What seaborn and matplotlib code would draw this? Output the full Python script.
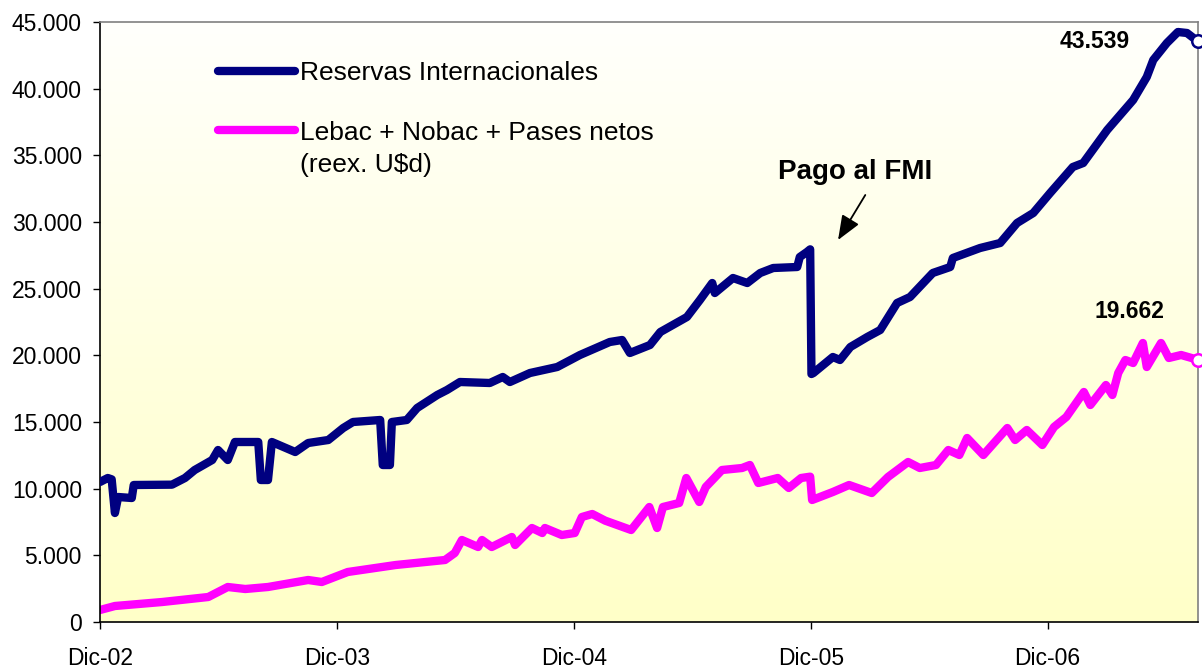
import numpy as np
import pandas as pd
import matplotlib
matplotlib.use('Agg')
from matplotlib import pyplot as plt
import matplotlib.ticker as mticker
import seaborn as sns

# Reservas Internacionales (millones U$d)
reservas_fechas = [
    '2002-12-01', '2002-12-13', '2002-12-19', '2002-12-24', '2002-12-29', '2003-01-19',
    '2003-01-22', '2003-03-22', '2003-04-11', '2003-04-26', '2003-05-23', '2003-06-01',
    '2003-06-16', '2003-06-27', '2003-08-02', '2003-08-06', '2003-08-17', '2003-08-23',
    '2003-09-28', '2003-10-18', '2003-11-18', '2003-12-11', '2003-12-26', '2004-02-06',
    '2004-02-10', '2004-02-21', '2004-02-24', '2004-03-18', '2004-04-03', '2004-05-04',
    '2004-05-19', '2004-06-08', '2004-07-24', '2004-08-13', '2004-08-24', '2004-09-24',
    '2004-11-05', '2004-12-10', '2005-01-25', '2005-02-13', '2005-02-25', '2005-03-28',
    '2005-04-13', '2005-05-24', '2005-06-13', '2005-07-02', '2005-07-06', '2005-08-03',
    '2005-08-25', '2005-09-14', '2005-10-04', '2005-11-10', '2005-11-14', '2005-11-25',
    '2005-11-30', '2005-12-02', '2005-12-05', '2006-01-04', '2006-01-15', '2006-01-31',
    '2006-02-26', '2006-03-18', '2006-04-13', '2006-05-03', '2006-06-07', '2006-07-04',
    '2006-07-08', '2006-08-19', '2006-09-19', '2006-10-15', '2006-11-09', '2006-12-05',
    '2007-01-09', '2007-01-25', '2007-03-03', '2007-04-12', '2007-05-03', '2007-05-13',
    '2007-06-03', '2007-06-20', '2007-07-04', '2007-07-21']
reservas = [
    10500, 10800, 10700, 8175, 9375, 9300,
    10275, 10300, 10800, 11400, 12150, 12900,
    12150, 13500, 13500, 10650, 10650, 13500,
    12750, 13425, 13650, 14550, 15000, 15150,
    11775, 11775, 15000, 15150, 16050, 17025,
    17400, 18000, 17925, 18375, 18000, 18675,
    19125, 20025, 21000, 21150, 20175, 20775,
    21750, 22875, 24150, 25425, 24675, 25800,
    25425, 26175, 26550, 26625, 27375, 27750,
    27950, 18600, 18675, 19875, 19650, 20625,
    21375, 21900, 23925, 24375, 26175, 26625,
    27300, 28050, 28425, 29925, 30675, 32175,
    34125, 34425, 36900, 39150, 40875, 42150,
    43425, 44250, 44175, 43539]

# Lebac + Nobac + Pases netos (reex. U$d)
lebac_fechas = [
    '2002-12-01', '2002-12-24', '2003-03-07', '2003-05-17', '2003-06-16', '2003-07-13',
    '2003-08-17', '2003-10-18', '2003-11-08', '2003-12-18', '2004-03-01', '2004-05-16',
    '2004-05-31', '2004-06-11', '2004-07-06', '2004-07-12', '2004-07-27', '2004-08-27',
    '2004-09-01', '2004-09-27', '2004-10-13', '2004-10-17', '2004-11-12', '2004-12-02',
    '2004-12-13', '2004-12-29', '2005-01-18', '2005-02-27', '2005-03-27', '2005-04-08',
    '2005-04-17', '2005-05-12', '2005-05-23', '2005-06-12', '2005-06-22', '2005-07-17',
    '2005-08-17', '2005-08-29', '2005-09-11', '2005-10-11', '2005-10-28', '2005-11-16',
    '2005-11-30', '2005-12-03', '2006-01-04', '2006-01-29', '2006-03-05', '2006-03-30',
    '2006-04-30', '2006-05-18', '2006-06-12', '2006-07-01', '2006-07-18', '2006-07-30',
    '2006-08-24', '2006-09-30', '2006-10-12', '2006-10-30', '2006-11-23', '2006-12-11',
    '2006-12-30', '2007-01-26', '2007-02-05', '2007-03-01', '2007-03-11', '2007-03-20',
    '2007-03-31', '2007-04-12', '2007-04-27', '2007-05-03', '2007-05-25', '2007-06-06',
    '2007-06-25', '2007-07-21']
lebac = [
    900, 1200, 1500, 1875, 2625, 2475,
    2625, 3150, 3000, 3750, 4275, 4650,
    5175, 6150, 5625, 6150, 5625, 6375,
    5775, 7050, 6675, 7050, 6525, 6675,
    7875, 8100, 7600, 6900, 8625, 7050,
    8625, 8925, 10800, 9000, 10125, 11400,
    11550, 11775, 10425, 10800, 10050, 10800,
    10900, 9150, 9750, 10275, 9675, 10875,
    12000, 11550, 11775, 12900, 12525, 13800,
    12525, 14550, 13650, 14400, 13275, 14625,
    15375, 17250, 16275, 17775, 17025, 18675,
    19650, 19425, 20925, 19125, 20925, 19800,
    20025, 19662]

tick_fechas = ['2002-12-01', '2003-12-01', '2004-12-01', '2005-12-01', '2006-12-01']
tick_labels = ['Dic-02', 'Dic-03', 'Dic-04', 'Dic-05', 'Dic-06']

df_res = pd.DataFrame({'fecha': pd.to_datetime(reservas_fechas), 'valor': reservas})
df_leb = pd.DataFrame({'fecha': pd.to_datetime(lebac_fechas), 'valor': lebac})

sns.set_style('white')
plt.rcParams['font.family'] = ['Liberation Sans', 'DejaVu Sans']
plt.rcParams['text.color'] = 'black'

fig = plt.figure(figsize=(12.02, 6.69), dpi=100)
ax = fig.add_axes([100 / 1202, 1 - 622 / 669, 1098 / 1202, 600 / 669])

# background gradient white -> pale yellow
grad = np.linspace(0, 1, 256).reshape(-1, 1)
top = np.array([255, 255, 252]) / 255
bottom = np.array([255, 255, 200]) / 255
img = top + (bottom - top) * grad[..., None]
ax.imshow(img, extent=[0, 1, 0, 1], transform=ax.transAxes, aspect='auto', zorder=0)

navy = '#000080'
magenta = '#FF00FF'
sns.lineplot(data=df_res, x='fecha', y='valor', ax=ax, color=navy, lw=6,
             label='Reservas Internacionales', zorder=3)
sns.lineplot(data=df_leb, x='fecha', y='valor', ax=ax, color=magenta, lw=6,
             label='Lebac + Nobac + Pases netos', zorder=2)
for line in ax.get_lines():
    line.set_solid_joinstyle('round')
    line.set_solid_capstyle('round')

# end markers
ax.plot(df_res['fecha'].iloc[-1:], df_res['valor'].iloc[-1:], 'o', ms=9, mfc='white',
        mec=navy, mew=1.8, clip_on=False, zorder=5)
ax.plot(df_leb['fecha'].iloc[-1:], df_leb['valor'].iloc[-1:], 'o', ms=9, mfc='white',
        mec=magenta, mew=1.8, clip_on=False, zorder=5)

ax.set_xlim(pd.Timestamp('2002-12-01'), pd.Timestamp('2007-07-21'))
ax.set_ylim(0, 45000)
ax.set_yticks(range(0, 45001, 5000))
ax.yaxis.set_major_formatter(mticker.FuncFormatter(lambda v, p: f'{int(v):,}'.replace(',', '.')))
ax.set_xticks(pd.to_datetime(tick_fechas))
ax.set_xticklabels(tick_labels)
ax.set_xlabel('')
ax.set_ylabel('')
ax.tick_params(axis='both', direction='out', length=5, width=1, color='black',
               labelsize=16.5, labelcolor='black', left=True, bottom=True)
ax.tick_params(axis='y', pad=8)
ax.tick_params(axis='x', pad=13)

for side in ['left', 'bottom']:
    ax.spines[side].set_color('black')
    ax.spines[side].set_linewidth(1.2)
for side in ['top', 'right']:
    ax.spines[side].set_color('#808080')
    ax.spines[side].set_linewidth(1.2)

leg = ax.legend(loc='upper left', bbox_to_anchor=(0.1075, 0.935), frameon=False,
                fontsize=19, handlelength=2.9, handletextpad=0.2, labelspacing=1.35,
                borderaxespad=0, borderpad=0, labelcolor='black')
for h in leg.get_lines():
    h.set_linewidth(6)
    h.set_solid_capstyle('round')
ax.text(0.182, 0.762, '(reex. U$d)', transform=ax.transAxes, fontsize=19,
        va='center', ha='left', color='black')

ax.text(pd.Timestamp('2006-02-07'), 33750, 'Pago al FMI', ha='center', va='center',
        fontsize=20, fontweight='bold', color='black')
ax.annotate('', xy=(pd.Timestamp('2006-01-12'), 28650),
            xytext=(pd.Timestamp('2006-02-23'), 32025),
            arrowprops=dict(arrowstyle='-|>,head_length=1.5,head_width=0.6', color='black',
                            lw=1.3, shrinkA=0, shrinkB=0))
ax.text(pd.Timestamp('2007-02-12'), 43500, '43.539', ha='center', va='center',
        fontsize=16.5, fontweight='bold', color='black')
ax.text(pd.Timestamp('2007-04-07'), 23325, '19.662', ha='center', va='center',
        fontsize=16.5, fontweight='bold', color='black')

fig.savefig('out.png', dpi=100)
